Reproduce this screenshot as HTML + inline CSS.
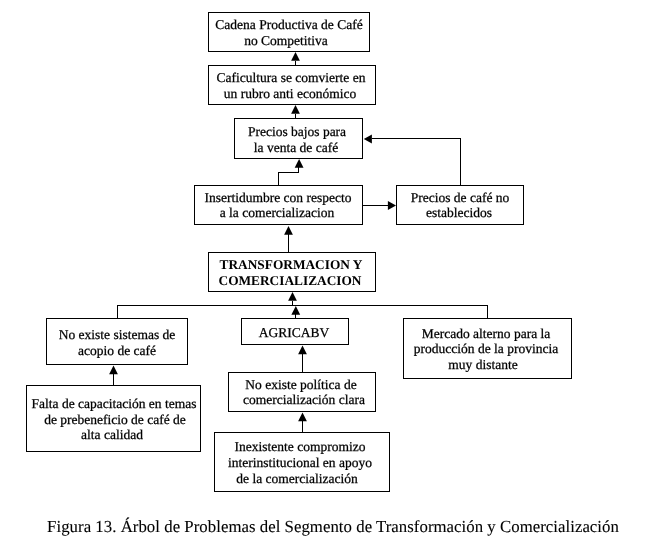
<!DOCTYPE html>
<html><head><meta charset="utf-8"><style>
html,body{margin:0;padding:0;background:#fff;}
body{width:656px;height:544px;position:relative;overflow:hidden;}
.b{position:absolute;border:1px solid #000;box-sizing:border-box;}
.l{position:absolute;background:#000;}
.t{position:absolute;width:400px;text-align:center;white-space:nowrap;font-family:"Liberation Serif",serif;font-size:13.5px;line-height:16px;height:16px;color:#000;text-rendering:geometricPrecision;will-change:transform;-webkit-text-stroke:0.25px #000;}
.bd{font-weight:bold;font-size:13.33px;-webkit-text-stroke:0;}
.cap{position:absolute;left:0;width:656px;text-align:center;white-space:nowrap;font-family:"Liberation Serif",serif;color:#000;text-rendering:geometricPrecision;will-change:transform;-webkit-text-stroke:0.25px #000;}
svg{position:absolute;left:0;top:0;}
</style></head><body>

<div class="b" style="left:208px;top:12px;width:162px;height:40px"></div>
<div class="b" style="left:208px;top:65px;width:168px;height:40px"></div>
<div class="b" style="left:234px;top:118px;width:129px;height:41px"></div>
<div class="b" style="left:194px;top:185px;width:169px;height:40px"></div>
<div class="b" style="left:396px;top:185px;width:128px;height:40px"></div>
<div class="b" style="left:208px;top:252px;width:168px;height:40px"></div>
<div class="b" style="left:46px;top:318px;width:142px;height:47px"></div>
<div class="b" style="left:241px;top:318px;width:108px;height:27px"></div>
<div class="b" style="left:403px;top:318px;width:169px;height:61px"></div>
<div class="b" style="left:26px;top:385px;width:175px;height:67px"></div>
<div class="b" style="left:228px;top:372px;width:148px;height:40px"></div>
<div class="b" style="left:214px;top:432px;width:176px;height:60px"></div>
<div class="l" style="left:295px;top:61px;width:1px;height:5px"></div>
<div class="l" style="left:295px;top:114px;width:1px;height:5px"></div>
<div class="l" style="left:278px;top:172px;width:1px;height:14px"></div>
<div class="l" style="left:278px;top:172px;width:21px;height:1px"></div>
<div class="l" style="left:298px;top:167px;width:1px;height:6px"></div>
<div class="l" style="left:362px;top:205px;width:27px;height:1px"></div>
<div class="l" style="left:460px;top:138px;width:1px;height:48px"></div>
<div class="l" style="left:372px;top:138px;width:89px;height:1px"></div>
<div class="l" style="left:288px;top:234px;width:1px;height:19px"></div>
<div class="l" style="left:292px;top:301px;width:1px;height:5px"></div>
<div class="l" style="left:117px;top:305px;width:371px;height:1px"></div>
<div class="l" style="left:117px;top:305px;width:1px;height:14px"></div>
<div class="l" style="left:487px;top:305px;width:1px;height:14px"></div>
<div class="l" style="left:295px;top:314px;width:1px;height:5px"></div>
<div class="l" style="left:113px;top:374px;width:1px;height:12px"></div>
<div class="l" style="left:302px;top:354px;width:1px;height:19px"></div>
<div class="l" style="left:302px;top:421px;width:1px;height:12px"></div>
<div class="t" style="left:88.60px;top:16.75px">Cadena Productiva de Café</div>
<div class="t" style="left:85.70px;top:32.75px">no Competitiva</div>
<div class="t" style="left:90.65px;top:69.55px">Caficultura se comvierte en</div>
<div class="t" style="left:90.15px;top:85.55px">un rubro anti económico</div>
<div class="t" style="left:97.20px;top:123.65px">Precios bajos para</div>
<div class="t" style="left:95.60px;top:139.65px">la venta de café</div>
<div class="t" style="left:78.30px;top:189.85px">Insertidumbre con respecto</div>
<div class="t" style="left:76.65px;top:205.15px">a la comercializacion</div>
<div class="t" style="left:260.20px;top:189.65px">Precios de café no</div>
<div class="t" style="left:258.85px;top:205.25px">establecidos</div>
<div class="t bd" style="left:90.65px;top:256.95px">TRANSFORMACION Y</div>
<div class="t bd" style="left:90.35px;top:272.95px">COMERCIALIZACION</div>
<div class="t" style="left:-83.05px;top:326.85px">No existe sistemas de</div>
<div class="t" style="left:-83.10px;top:342.75px">acopio de café</div>
<div class="t" style="left:93.60px;top:325.05px">AGRICABV</div>
<div class="t" style="left:285.65px;top:325.65px">Mercado alterno para la</div>
<div class="t" style="left:285.80px;top:341.15px">producción de la provincia</div>
<div class="t" style="left:282.90px;top:357.15px">muy distante</div>
<div class="t" style="left:-86.15px;top:395.85px">Falta de capacitación en temas</div>
<div class="t" style="left:-85.15px;top:411.65px">de prebeneficio de café de</div>
<div class="t" style="left:-88.45px;top:427.45px">alta calidad</div>
<div class="t" style="left:101.48px;top:377.25px">No existe política de</div>
<div class="t" style="left:103.80px;top:392.05px">comercialización clara</div>
<div class="t" style="left:100.00px;top:438.85px">Inexistente compromizo</div>
<div class="t" style="left:100.45px;top:454.75px">interinstitucional en apoyo</div>
<div class="t" style="left:97.10px;top:470.55px">de la comercialización</div>
<svg width="656" height="544" viewBox="0 0 656 544">
<polygon points="295.5,52 291.1,60.7 299.9,60.7" fill="#000"/>
<polygon points="295.5,105 291.1,113.7 299.9,113.7" fill="#000"/>
<polygon points="299.1,159 294.70000000000005,167.7 303.5,167.7" fill="#000"/>
<polygon points="396,205.5 387.9,201.1 387.9,209.9" fill="#000"/>
<polygon points="363.8,139 371.90000000000003,134.6 371.90000000000003,143.4" fill="#000"/>
<polygon points="288.5,226 284.1,234.7 292.9,234.7" fill="#000"/>
<polygon points="292.5,292 288.1,300.7 296.9,300.7" fill="#000"/>
<polygon points="295.8,306 291.40000000000003,314.7 300.2,314.7" fill="#000"/>
<polygon points="113.5,365.5 109.1,374.2 117.9,374.2" fill="#000"/>
<polygon points="302.5,345.5 298.1,354.2 306.9,354.2" fill="#000"/>
<polygon points="302.5,412.5 298.1,421.2 306.9,421.2" fill="#000"/>
</svg>
<div class="cap" style="left:-67.3px;width:800px;top:516.6px;letter-spacing:0.035px;-webkit-text-stroke:0.1px #000;font-size:16.8px;line-height:20px">Figura 13. Árbol de Problemas del Segmento de Transformación y Comercialización</div>
</body></html>
